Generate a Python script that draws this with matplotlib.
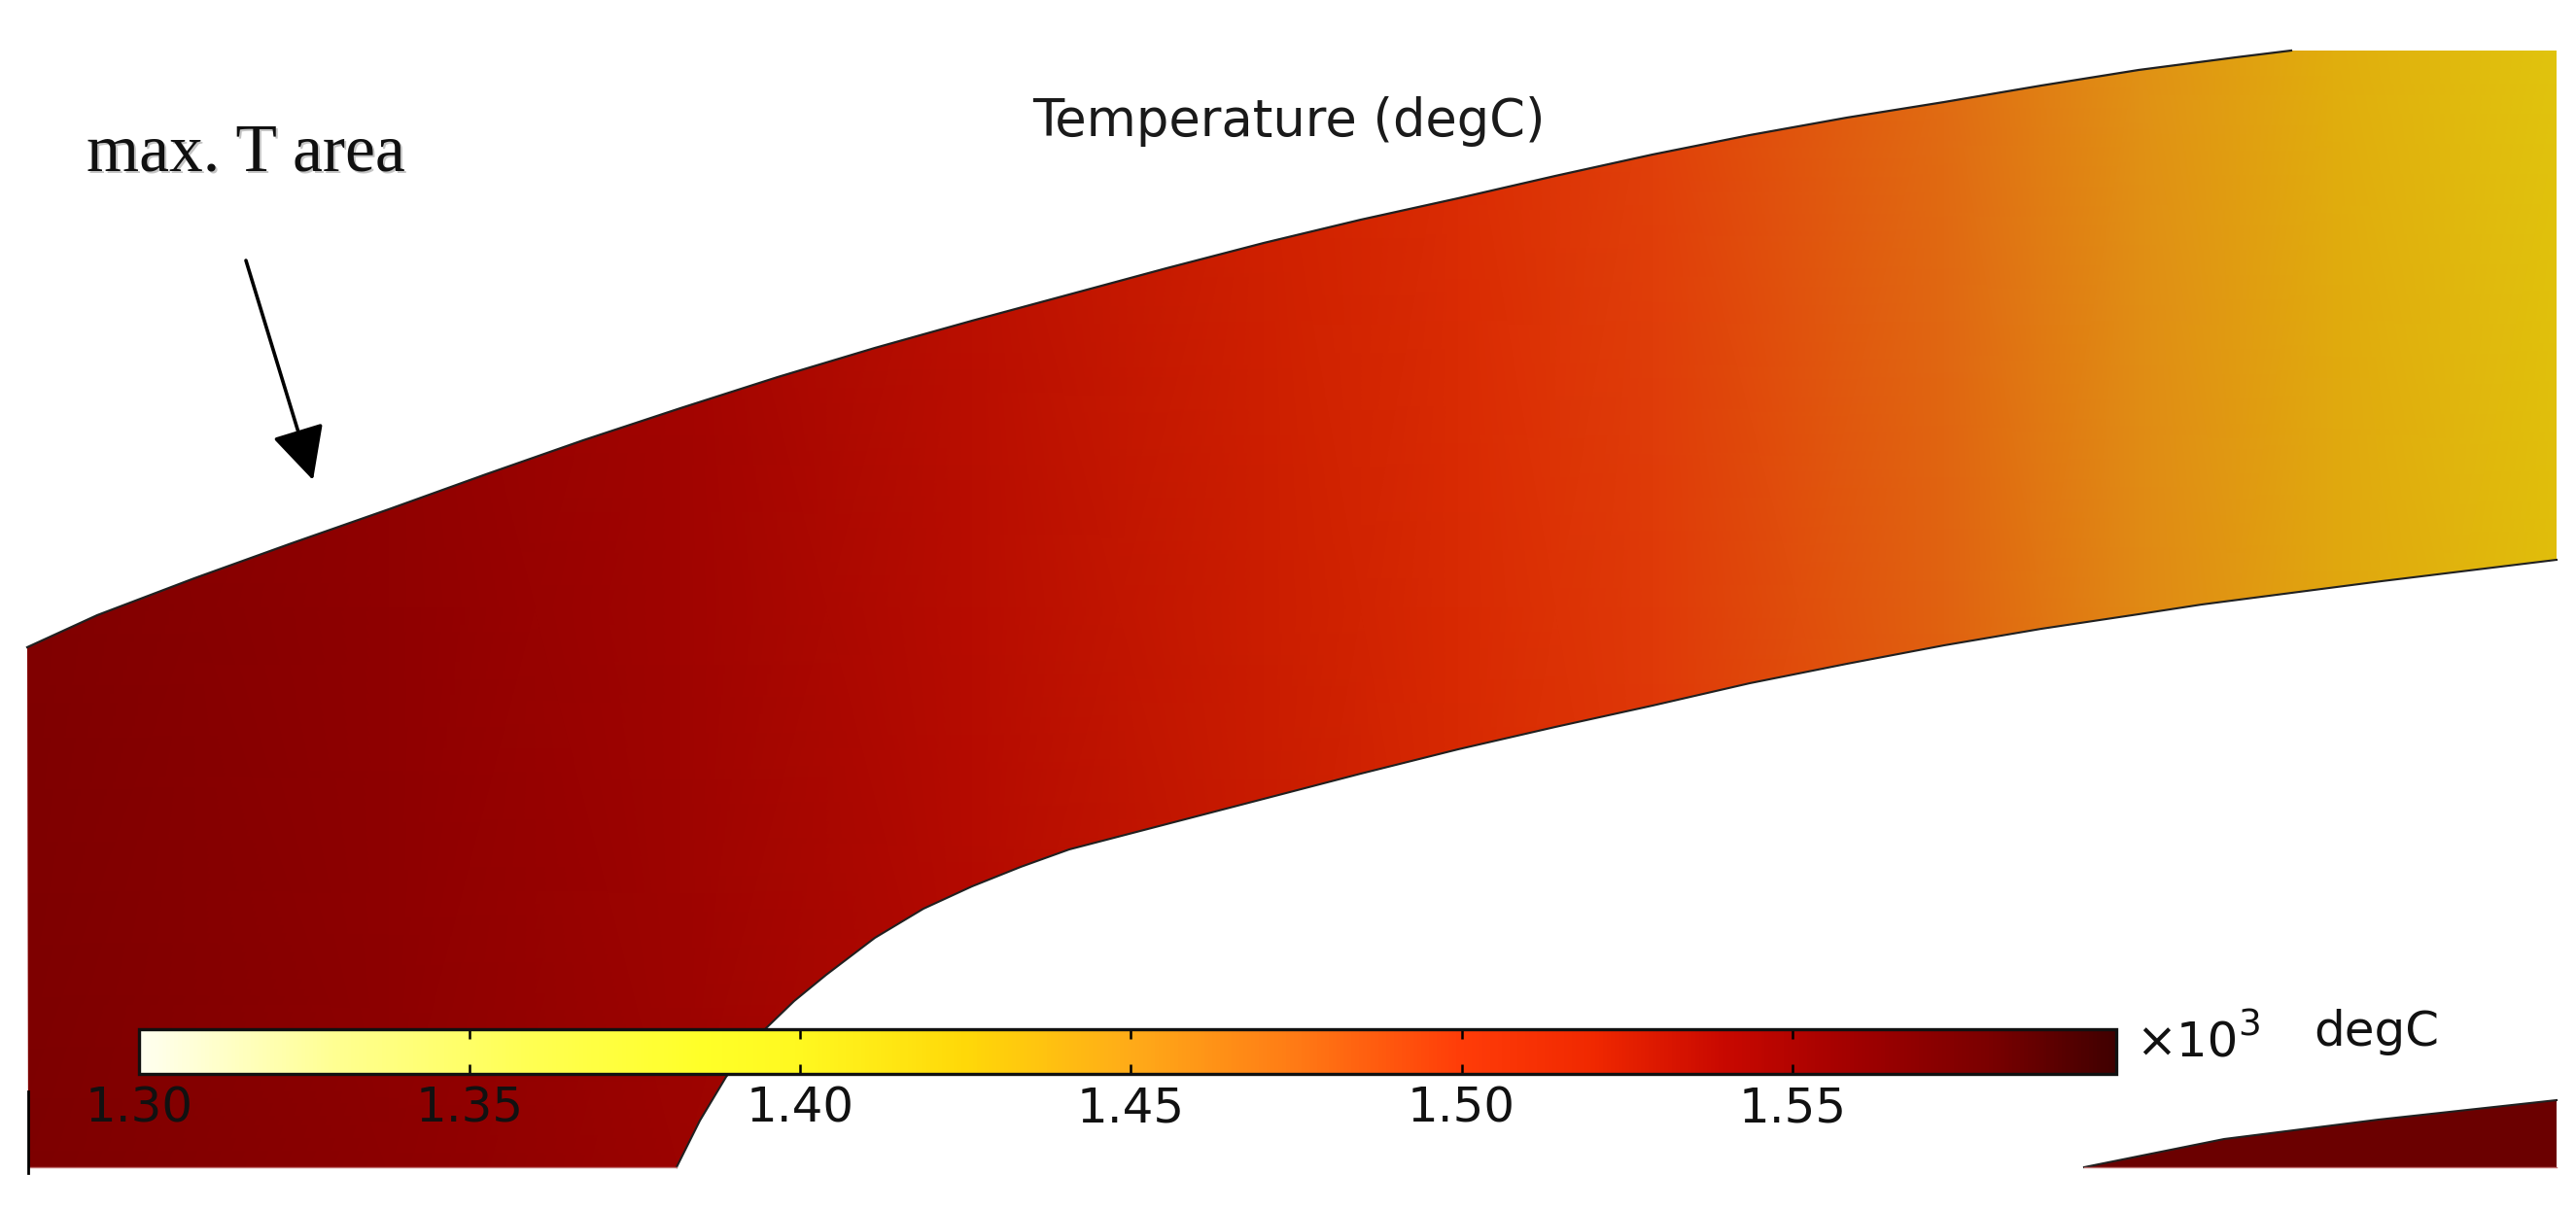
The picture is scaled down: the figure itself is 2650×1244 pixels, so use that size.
import numpy as np
import matplotlib
matplotlib.use('Agg')
from matplotlib import pyplot as plt
from matplotlib.cm import ScalarMappable
from matplotlib.colors import LinearSegmentedColormap, Normalize
from matplotlib.patches import Polygon

# outline of the band (pixel coordinates)
top_x = [28, 100, 200, 300, 400, 500, 600, 700, 800, 900, 1000, 1100, 1200, 1300, 1400,
         1500, 1600, 1700, 1800, 1900, 2000, 2100, 2200, 2300, 2357]
top_y = [666, 633, 595, 559, 524, 488, 453, 420, 388, 358, 330, 303, 276, 250, 226,
         204, 181, 159, 139, 121, 105, 88, 72, 59, 52]
low_x = [2630, 2450, 2265, 2200, 2100, 2000, 1900, 1800, 1700, 1600, 1500, 1400, 1300, 1200,
         1100, 1050, 1000, 950, 900, 850, 817, 788, 747, 720, 696]
low_y = [576, 598, 622, 632, 647, 664, 683, 703, 726, 748, 771, 796, 822, 848,
         874, 892, 912, 935, 965, 1003, 1030, 1058, 1108, 1153, 1201]
wedge_x = [2144, 2288, 2447, 2630]
wedge_y = [1201, 1172, 1152, 1132]

# temperature (x10^3 degC) at upper and lower side of the band
field_x = [0, 400, 700, 1000, 1300, 1500, 1700, 2000, 2200, 2400, 2650]
field_top = [1.566, 1.556, 1.546, 1.533, 1.521, 1.508, 1.494, 1.474, 1.453, 1.435, 1.418]
field_low = [1.570, 1.560, 1.552, 1.539, 1.528, 1.517, 1.503, 1.484, 1.464, 1.445, 1.428]
field_y = [1210, 40]
wedge_temp = 1.58

# colour scale
bar_min = 1.30
bar_max = 1.599
bar_ticks = [1.30, 1.35, 1.40, 1.45, 1.50, 1.55]
bar_labels = ['1.30', '1.35', '1.40', '1.45', '1.50', '1.55']
bar_pos = [1.30, 1.33, 1.36, 1.385, 1.40, 1.425, 1.45, 1.475, 1.50, 1.52, 1.54, 1.56, 1.58, 1.599]
bar_col = ['#fffff0', '#ffff90', '#ffff50', '#ffff28', '#fff820', '#ffd808', '#ffab18', '#ff7a15',
           '#ff3c08', '#f02800', '#c80800', '#a00000', '#7a0000', '#400000']

W, H = 2650, 1244
norm = Normalize(bar_min, bar_max)
pos = [(p - bar_min) / (bar_max - bar_min) for p in bar_pos]
bar_cmap = LinearSegmentedColormap.from_list('bar', list(zip(pos, bar_col)), N=512)
# the surface itself is a bit darker than the legend (lighting)
shade = bar_cmap(np.arange(512))
shade[:, :3] = shade[:, :3] * 0.88
field_cmap = LinearSegmentedColormap.from_list('field', shade, N=512)

fig = plt.figure(figsize=(W / 100, H / 100), dpi=100, facecolor='white')
ax = fig.add_axes([0, 0, 1, 1])
ax.set_xlim(0, W)
ax.set_ylim(H, 0)
ax.axis('off')

# band with temperature field
outline = list(zip(top_x, top_y)) + [(2630, 52)] + list(zip(low_x, low_y)) + [(29, 1201)]
mesh = ax.pcolormesh(field_x, field_y, [field_low, field_top], shading='gouraud',
                     cmap=field_cmap, norm=norm, zorder=1)
clip = Polygon(outline, closed=True, transform=ax.transData, fc='none', ec='none')
ax.add_patch(clip)
mesh.set_clip_path(clip)
ax.plot(top_x, top_y, color='#202020', lw=1.6, zorder=2)
ax.plot(low_x, low_y, color='#202020', lw=1.5, zorder=2)
ax.plot([29, 696], [1201, 1201], color='#c07070', lw=1, zorder=2)
ax.plot([29, 29], [1123, 1207], color='black', lw=2, zorder=2)

# small wedge at the bottom right
ax.fill(wedge_x + [2630], wedge_y + [1201], color=field_cmap(norm(wedge_temp)), lw=0, zorder=1)
ax.plot(wedge_x, wedge_y, color='#202020', lw=1.5, zorder=2)
ax.plot([2144, 2630], [1201, 1201], color='#c07070', lw=1, zorder=2)

ax.text(1326, 140, 'Temperature (degC)', fontsize=38, ha='center', va='baseline', color='#1a1a1a')

# annotation, slight shadow like the original
ax.text(91, 177, 'max. T area', fontsize=50, family='Liberation Serif', color='#c4c4c4')
ax.text(89, 175, 'max. T area', fontsize=50, family='Liberation Serif', color='#101010')
ax.annotate('', xy=(322, 494), xytext=(253, 268),
            arrowprops=dict(arrowstyle='-|>,head_length=1.0,head_width=0.5', color='black',
                            lw=2.6, mutation_scale=34, shrinkA=0, shrinkB=0))

# colour bar
cax = fig.add_axes([143 / W, 1 - 1105 / H, (2177 - 143) / W, 46 / H])
cb = fig.colorbar(ScalarMappable(norm=norm, cmap=bar_cmap), cax=cax, orientation='horizontal')
cb.set_ticks(bar_ticks, labels=bar_labels)
cb.minorticks_off()
cax.tick_params(axis='x', which='major', direction='in', length=7, width=1.8, top=True,
                labelsize=36, pad=8, labelcolor='#111111', color='black')
cb.outline.set_linewidth(2.4)
cb.outline.set_edgecolor('#111111')

ax.text(2197, 1088, '\u00d710', fontsize=36, ha='left', va='baseline', color='#111111')
ax.text(2302, 1065, '3', fontsize=27, ha='left', va='baseline', color='#111111')
ax.text(2380, 1076, 'degC', fontsize=36, ha='left', va='baseline', color='#111111')

fig.savefig('out.png', dpi=100)
